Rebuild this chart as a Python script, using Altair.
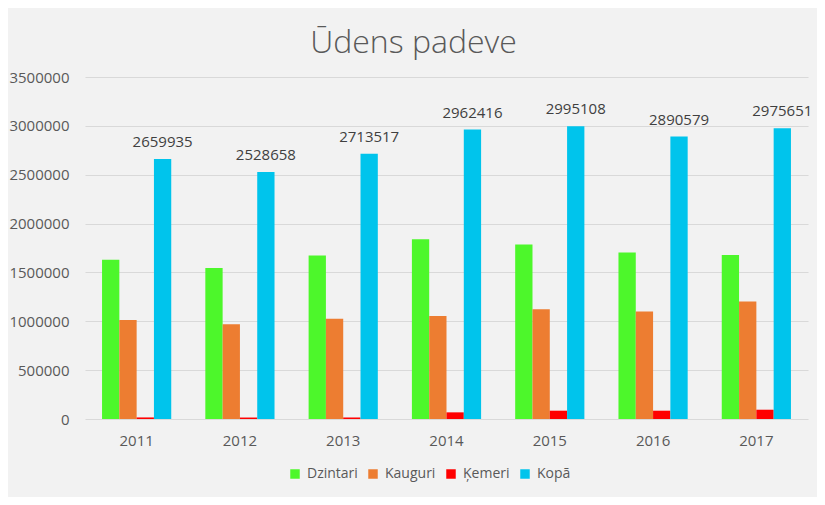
import altair as alt
import pandas as pd

years = ["2011", "2012", "2013", "2014", "2015", "2016", "2017"]
series = ["Dzintari", "Kauguri", "Ķemeri", "Kopā"]
dzintari = [1630000, 1545000, 1672000, 1839000, 1786000, 1705000, 1679000]
kauguri = [1014000, 969000, 1026000, 1055000, 1123000, 1099000, 1202000]
kemeri = [16000, 15000, 15500, 68000, 85000, 85000, 95000]
kopa = [2659935, 2528658, 2713517, 2962416, 2995108, 2890579, 2975651]
colors = ["#4DF72B", "#ED7D31", "#FF0000", "#00C4EC"]
y_ticks = [0, 500000, 1000000, 1500000, 2000000, 2500000, 3000000, 3500000]

rows = []
for i, yr in enumerate(years):
    for s, vals in zip(series, [dzintari, kauguri, kemeri, kopa]):
        rows.append({"gads": yr, "serija": s, "vertiba": vals[i]})
df = pd.DataFrame(rows)

FONT = "Open Sans"

x = alt.X(
    "gads:N",
    sort=years,
    scale=alt.Scale(paddingInner=0.33, paddingOuter=0.165),
    axis=alt.Axis(
        title=None, labelAngle=0, domain=False, ticks=False, labelPadding=14,
        labelFontSize=15, labelColor="#595959", labelFont=FONT,
    ),
)
xoff = alt.XOffset(
    "serija:N", sort=series,
    scale=alt.Scale(domain=series, paddingInner=0, paddingOuter=0),
)
y = alt.Y(
    "vertiba:Q",
    scale=alt.Scale(domain=[0, 3500000], nice=False),
    axis=alt.Axis(
        title=None, values=y_ticks, format="d", domain=False, ticks=False,
        grid=True, gridColor="#d9d9d9", gridWidth=1, labelPadding=16,
        labelFontSize=15, labelColor="#595959", labelFont=FONT,
    ),
)
color = alt.Color(
    "serija:N",
    sort=series,
    scale=alt.Scale(domain=series, range=colors),
    legend=alt.Legend(
        title=None, orient="none", legendX=203, legendY=390,
        direction="horizontal", columns=4, symbolType="square", symbolSize=90,
        symbolStrokeWidth=0, labelFontSize=14, labelFont=FONT,
        labelColor="#595959", columnPadding=8, labelOffset=5, padding=0,
    ),
)

bars = alt.Chart(df).mark_bar().encode(x=x, xOffset=xoff, y=y, color=color)

labels = (
    alt.Chart(df)
    .transform_filter(alt.datum.serija == "Kopā")
    .mark_text(dy=-12, baseline="alphabetic", fontSize=15, font=FONT, color="#404040")
    .encode(x=x, xOffset=xoff, y=y, text=alt.Text("vertiba:Q", format="d"))
)

chart = (
    alt.layer(bars, labels)
    .properties(
        width=723,
        height=342,
        autosize=alt.AutoSizeParams(type="none"),
        padding={"left": 77, "top": 69, "right": 9, "bottom": 78},
        background="#f2f2f2",
        title=alt.TitleParams(
            "Ūdens padeve", fontSize=32, font=FONT, fontWeight=300,
            color="#595959", frame="group", anchor="middle",
            baseline="alphabetic", offset=22, dx=-33, dy=37,
        ),
    )
    .configure_view(stroke=None)
)

chart.save("out.html", embed_options={"renderer": "svg", "actions": False})
